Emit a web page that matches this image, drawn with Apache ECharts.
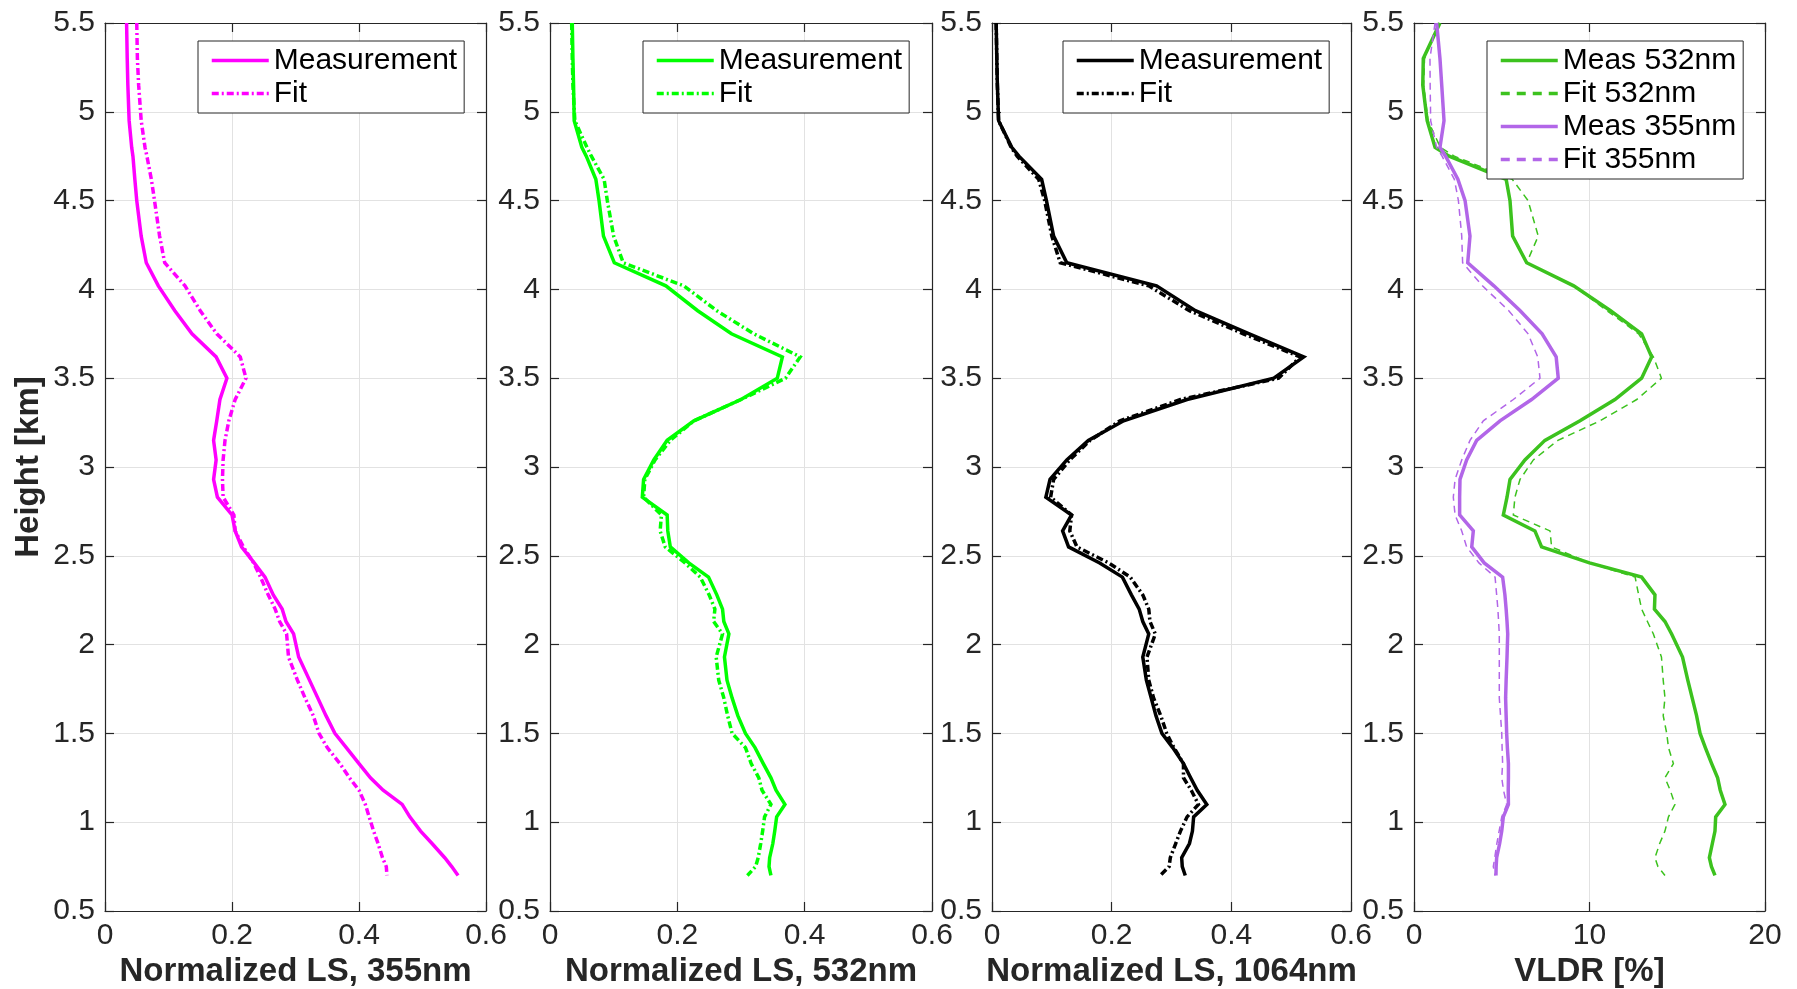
<!DOCTYPE html>
<html>
<head>
<meta charset="utf-8">
<script src="https://cdn.jsdelivr.net/npm/echarts@6/dist/echarts.min.js"></script>
<style>
  html, body { margin: 0; padding: 0; background: #ffffff; }
  #chart { width: 1797px; height: 989px; }
</style>
</head>
<body>
<div id="chart"></div>
<script>
// Heights (km) shared by every profile
const heightKm = [5.5, 5.3, 5.15, 4.95, 4.8, 4.75, 4.62, 4.5, 4.3, 4.15, 4.02, 3.88, 3.75, 3.62, 3.5, 3.38, 3.26, 3.15, 3.04, 2.93,
  2.83, 2.73, 2.64, 2.55, 2.46, 2.38, 2.28, 2.2, 2.13, 2.06, 1.93, 1.8, 1.7, 1.6, 1.5, 1.42, 1.33, 1.25, 1.18, 1.1,
  1.03, 0.95, 0.88, 0.8, 0.75, 0.7];

// Normalized lidar signal, 355 nm
const ls355Meas = [0.034, 0.035, 0.036, 0.038, 0.042, 0.044, 0.047, 0.05, 0.057, 0.065, 0.084, 0.11, 0.137, 0.175, 0.192, 0.181, 0.176, 0.171, 0.175, 0.171,
  0.177, 0.2, 0.205, 0.215, 0.235, 0.252, 0.265, 0.279, 0.285, 0.297, 0.305, 0.322, 0.335, 0.348, 0.362, 0.38, 0.4, 0.418, 0.438, 0.468,
  0.48, 0.497, 0.515, 0.535, 0.546, 0.556];
const ls355Fit = [0.05, 0.051, 0.053, 0.057, 0.063, 0.066, 0.073, 0.078, 0.086, 0.094, 0.126, 0.15, 0.176, 0.213, 0.222, 0.205, 0.195, 0.189, 0.186, 0.185,
  0.186, 0.203, 0.205, 0.218, 0.234, 0.245, 0.257, 0.268, 0.275, 0.286, 0.289, 0.303, 0.315, 0.328, 0.337, 0.35, 0.37, 0.385, 0.4, 0.41,
  0.416, 0.423, 0.43, 0.437, 0.443, 0.444];

// Normalized lidar signal, 532 nm
const ls532Meas = [0.035, 0.036, 0.037, 0.038, 0.05, 0.057, 0.072, 0.077, 0.084, 0.101, 0.182, 0.232, 0.285, 0.365, 0.357, 0.3, 0.226, 0.184, 0.163, 0.147,
  0.145, 0.184, 0.185, 0.189, 0.218, 0.249, 0.262, 0.271, 0.273, 0.281, 0.274, 0.278, 0.286, 0.295, 0.307, 0.322, 0.335, 0.347, 0.355, 0.369,
  0.356, 0.353, 0.35, 0.345, 0.344, 0.347];
const ls532Fit = [0.034, 0.035, 0.036, 0.039, 0.058, 0.065, 0.085, 0.09, 0.1, 0.115, 0.21, 0.262, 0.32, 0.393, 0.37, 0.3, 0.226, 0.189, 0.165, 0.149,
  0.147, 0.175, 0.173, 0.181, 0.212, 0.236, 0.25, 0.259, 0.257, 0.271, 0.261, 0.265, 0.273, 0.279, 0.286, 0.307, 0.316, 0.328, 0.333, 0.347,
  0.337, 0.334, 0.331, 0.327, 0.323, 0.31];

// Normalized lidar signal, 1064 nm
const ls1064Meas = [0.007, 0.008, 0.009, 0.011, 0.033, 0.045, 0.083, 0.091, 0.103, 0.125, 0.275, 0.34, 0.43, 0.521, 0.471, 0.326, 0.22, 0.161, 0.125, 0.097,
  0.09, 0.133, 0.118, 0.128, 0.18, 0.218, 0.233, 0.246, 0.252, 0.262, 0.252, 0.258, 0.266, 0.274, 0.284, 0.302, 0.32, 0.332, 0.343, 0.359,
  0.337, 0.335, 0.33, 0.317, 0.318, 0.323];
const ls1064Fit = [0.007, 0.008, 0.009, 0.011, 0.032, 0.042, 0.078, 0.088, 0.1, 0.114, 0.262, 0.33, 0.42, 0.515, 0.479, 0.315, 0.214, 0.164, 0.13, 0.103,
  0.098, 0.133, 0.13, 0.142, 0.195, 0.231, 0.252, 0.262, 0.264, 0.273, 0.259, 0.262, 0.27, 0.282, 0.292, 0.304, 0.32, 0.32, 0.333, 0.345,
  0.326, 0.315, 0.307, 0.298, 0.296, 0.281];

// Volume linear depolarization ratio (%)
const vldr532Meas = [1.48, 0.53, 0.5, 0.75, 1.2, 2.0, 5.25, 5.47, 5.62, 6.42, 9.1, 11.2, 12.97, 13.54, 12.97, 11.45, 9.46, 7.46, 6.32, 5.47,
  5.3, 5.09, 6.89, 7.27, 10.0, 12.97, 13.73, 13.7, 14.3, 14.68, 15.3, 15.6, 15.85, 16.1, 16.3, 16.6, 16.96, 17.3, 17.45, 17.72,
  17.19, 17.15, 17.0, 16.83, 16.95, 17.15];
const vldr532Fit = [1.4, 0.6, 0.55, 0.8, 1.5, 2.3, 5.6, 6.5, 7.08, 6.42, 9.1, 11.0, 12.8, 13.64, 14.1, 12.69, 10.6, 8.2, 6.8, 6.04,
  5.75, 5.66, 7.75, 7.84, 10.0, 12.6, 12.8, 12.97, 13.3, 13.64, 14.1, 14.2, 14.3, 14.2, 14.4, 14.5, 14.78, 14.3, 14.6, 14.87,
  14.5, 14.3, 14.0, 13.73, 13.9, 14.3];
const vldr355Meas = [1.29, 1.48, 1.58, 1.71, 1.48, 1.8, 2.5, 2.91, 3.19, 3.06, 4.55, 6.05, 7.3, 8.1, 8.22, 6.7, 4.9, 3.57, 3.0, 2.62,
  2.6, 2.6, 3.38, 3.29, 4.0, 5.05, 5.18, 5.25, 5.3, 5.34, 5.3, 5.25, 5.22, 5.25, 5.28, 5.32, 5.38, 5.38, 5.37, 5.38,
  5.09, 5.0, 4.88, 4.71, 4.68, 4.67];
const vldr355Fit = [1.2, 0.91, 0.92, 0.95, 1.29, 1.6, 2.3, 2.53, 2.72, 2.77, 3.9, 5.4, 6.5, 7.05, 7.18, 5.66, 3.95, 3.19, 2.72, 2.34,
  2.24, 2.34, 2.72, 3.0, 3.7, 4.62, 4.71, 4.78, 4.82, 4.86, 4.86, 4.86, 4.86, 4.93, 5.0, 5.02, 5.05, 5.0, 5.1, 5.28,
  5.0, 4.85, 4.72, 4.6, 4.52, 4.62];

// Axis ticks
const heightTicks = [0.5, 1, 1.5, 2, 2.5, 3, 3.5, 4, 4.5, 5, 5.5];
const lsTicks = [0, 0.2, 0.4, 0.6];
const vldrTicks = [0, 10, 20];

const FONT = '"Liberation Sans", Arial, Helvetica, sans-serif';
const AXIS_COLOR = '#262626';
const GRID_COLOR = '#e2e2e2';
const TOP = 23, PLOT_H = 888;

const panels = [
  { left: 105, width: 381, ticks: lsTicks, title: 'Normalized LS, 355nm', legendLeft: 198 },
  { left: 550, width: 382, ticks: lsTicks, title: 'Normalized LS, 532nm', legendLeft: 643 },
  { left: 992, width: 359, ticks: lsTicks, title: 'Normalized LS, 1064nm', legendLeft: 1063 },
  { left: 1414, width: 351, ticks: vldrTicks, title: 'VLDR [%]', legendLeft: 1487 }
];

const pairs = vals => vals.map((v, i) => [v, heightKm[i]]);

const DASH_DOT = [7, 3, 2, 3];
const DASHED_THIN = [7, 5];
const DASHED_LEGEND = [9, 7];

// Profile styles; the legend keys of the thin fit curves are drawn thicker
const profiles = [
  { name: 'Measurement, 355nm', p: 0, color: '#ff00ff', data: ls355Meas, width: 3.5, dash: 'solid' },
  { name: 'Fit, 355nm', p: 0, color: '#ff00ff', data: ls355Fit, width: 3.5, dash: DASH_DOT },
  { name: 'Measurement, 532nm', p: 1, color: '#00ff00', data: ls532Meas, width: 3.5, dash: 'solid' },
  { name: 'Fit, 532nm', p: 1, color: '#00ff00', data: ls532Fit, width: 3.5, dash: DASH_DOT },
  { name: 'Measurement, 1064nm', p: 2, color: '#000000', data: ls1064Meas, width: 3.5, dash: 'solid' },
  { name: 'Fit, 1064nm', p: 2, color: '#000000', data: ls1064Fit, width: 3.5, dash: DASH_DOT },
  { name: 'Meas 532nm', p: 3, color: '#3cc21e', data: vldr532Meas, width: 3.5, dash: 'solid' },
  { name: 'Fit 532nm', p: 3, color: '#3cc21e', data: vldr532Fit, width: 1.5, dash: DASHED_THIN, legendWidth: 3.5, legendDash: DASHED_LEGEND },
  { name: 'Meas 355nm', p: 3, color: '#b266e8', data: vldr355Meas, width: 3.5, dash: 'solid' },
  { name: 'Fit 355nm', p: 3, color: '#b266e8', data: vldr355Fit, width: 1.5, dash: DASHED_THIN, legendWidth: 3.5, legendDash: DASHED_LEGEND }
];

const grids = [], xAxes = [], yAxes = [], legends = [];

panels.forEach((pn, i) => {
  const xmin = pn.ticks[0], xmax = pn.ticks[pn.ticks.length - 1], xint = pn.ticks[1] - pn.ticks[0];
  const ymin = heightTicks[0], ymax = heightTicks[heightTicks.length - 1], yint = heightTicks[1] - heightTicks[0];
  grids.push({ left: pn.left, top: TOP, width: pn.width, height: PLOT_H, containLabel: false, outerBoundsMode: 'none', show: false });

  const baseAxis = {
    gridIndex: i,
    type: 'value',
    axisLine: { show: true, onZero: false, lineStyle: { color: AXIS_COLOR, width: 1.2 } },
    axisTick: { show: true, inside: true, length: 9, lineStyle: { color: AXIS_COLOR, width: 1.2 } }
  };

  xAxes.push(Object.assign({}, baseAxis, {
    position: 'bottom', min: xmin, max: xmax, interval: xint,
    axisLabel: { show: true, margin: 10, fontSize: 30, color: AXIS_COLOR, fontFamily: FONT,
      showMinLabel: true, showMaxLabel: true },
    splitLine: { show: true, lineStyle: { color: GRID_COLOR, width: 1 } },
    name: pn.title, nameLocation: 'middle', nameGap: 44, nameMoveOverlap: false,
    nameTextStyle: { fontSize: 33, fontWeight: 'bold', color: AXIS_COLOR, fontFamily: FONT }
  }));
  xAxes.push(Object.assign({}, baseAxis, {
    position: 'top', min: xmin, max: xmax, interval: xint,
    axisLabel: { show: false }, splitLine: { show: false }
  }));

  const yLeft = Object.assign({}, baseAxis, {
    position: 'left', min: ymin, max: ymax, interval: yint,
    axisLabel: { show: true, margin: 10, fontSize: 30, color: AXIS_COLOR, fontFamily: FONT,
      showMinLabel: true, showMaxLabel: true },
    splitLine: { show: true, lineStyle: { color: GRID_COLOR, width: 1 } }
  });
  if (i === 0) {
    Object.assign(yLeft, {
      name: 'Height [km]', nameLocation: 'middle', nameGap: 60, nameMoveOverlap: false,
      nameTextStyle: { fontSize: 33, fontWeight: 'bold', color: AXIS_COLOR, fontFamily: FONT }
    });
  }
  yAxes.push(yLeft);
  yAxes.push(Object.assign({}, baseAxis, {
    position: 'right', min: ymin, max: ymax, interval: yint,
    axisLabel: { show: false }, splitLine: { show: false }
  }));

  // Legend keys: plain line samples (marker hidden)
  const items = profiles.filter(s => s.p === i).map(s => ({
    name: s.name,
    itemStyle: { opacity: 0 },
    lineStyle: { width: s.legendWidth || s.width, type: s.legendDash || s.dash, color: s.color, opacity: 1 }
  }));
  legends.push({
    orient: 'vertical', left: pn.legendLeft, top: 41,
    data: items,
    formatter: n => n.split(',')[0],
    selectedMode: false,
    itemWidth: 57, itemHeight: 14, itemGap: 0,
    padding: [3, 7, 3, 12],
    backgroundColor: '#ffffff', borderColor: AXIS_COLOR, borderWidth: 1,
    textStyle: { fontSize: 30, color: '#000000', fontFamily: FONT, lineHeight: 33 }
  });
});

const series = profiles.map(s => ({
  type: 'line',
  name: s.name,
  xAxisIndex: s.p * 2,
  yAxisIndex: s.p * 2,
  data: pairs(s.data),
  symbol: 'none',
  showSymbol: false,
  smooth: false,
  animation: false,
  clip: true,
  lineStyle: { color: s.color, width: s.width, type: s.dash, cap: 'butt', join: 'miter' },
  itemStyle: { color: s.color },
  emphasis: { disabled: true }
}));

const chart = echarts.init(document.getElementById('chart'), null, { renderer: 'canvas' });
chart.setOption({
  animation: false,
  backgroundColor: '#ffffff',
  textStyle: { fontFamily: FONT },
  grid: grids,
  xAxis: xAxes,
  yAxis: yAxes,
  legend: legends,
  tooltip: { show: false },
  series: series
});
</script>
</body>
</html>
